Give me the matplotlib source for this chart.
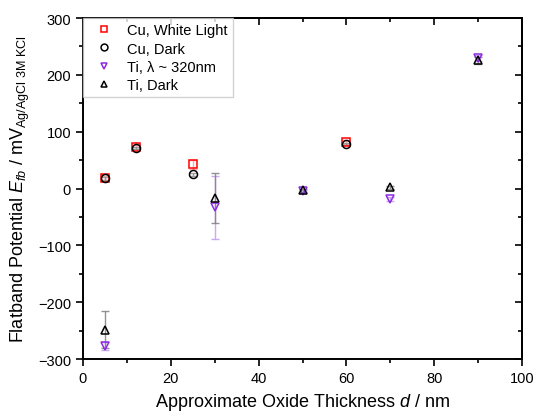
import matplotlib
matplotlib.use("Agg")
import matplotlib.pyplot as plt
from matplotlib.ticker import MultipleLocator

plt.rcParams['font.family'] = ['Liberation Sans', 'DejaVu Sans']
plt.rcParams['mathtext.fontset'] = 'custom'
plt.rcParams['mathtext.rm'] = 'Liberation Sans'
plt.rcParams['mathtext.it'] = 'Liberation Sans:italic'

# Cu electrodes
cu_x = [5, 12, 25, 60]
cu_light = [19, 73, 43, 82]
cu_light_err = [3, 3, 8, 3]
cu_dark = [18, 71, 25, 78]
cu_dark_err = [2, 2, 2, 2]

# Ti electrodes
ti_x = [5, 30, 50, 70, 90]
ti_uv = [-276, -33, -5, -18, 230]
ti_uv_err = [7, 56, 3, 3, 5]
ti_dark = [-248, -17, -3, 2, 226]
ti_dark_err = [33, 44, 3, 3, 6]

fig, ax = plt.subplots(figsize=(5.35, 4.14), dpi=100)
fig.subplots_adjust(left=0.155, right=0.976, top=0.954, bottom=0.13)

purple = '#8a2be2'
series = [
    (cu_x, cu_light, cu_light_err, 's', 'red', '#ff9a9a', 'Cu, White Light'),
    (cu_x, cu_dark, cu_dark_err, 'o', 'black', '#909090', 'Cu, Dark'),
    (ti_x, ti_uv, ti_uv_err, 'v', purple, '#c49af0', 'Ti, λ ~ 320nm'),
    (ti_x, ti_dark, ti_dark_err, '^', 'black', '#808080', 'Ti, Dark'),
]
for xs, ys, es, mk, col, ecol, lab in series:
    ax.errorbar(xs, ys, yerr=es, fmt='none', ecolor=ecol, elinewidth=1,
                capsize=3, capthick=1, alpha=0.85, zorder=2)
    ax.plot(xs, ys, linestyle='none', marker=mk, markersize=5.8,
            markerfacecolor='none', markeredgecolor=col, markeredgewidth=1.1,
            label=lab, zorder=3)

ax.set_xlim(0, 100)
ax.set_ylim(-300, 300)
ax.xaxis.set_major_locator(MultipleLocator(20))
ax.xaxis.set_minor_locator(MultipleLocator(10))
ax.yaxis.set_major_locator(MultipleLocator(100))
ax.yaxis.set_minor_locator(MultipleLocator(50))
ax.tick_params(which='both', direction='out', labelsize=10.5, width=1.2)
ax.tick_params(which='major', length=5)
ax.tick_params(which='minor', length=3)

for s in ax.spines.values():
    s.set_linewidth(1.4)

# mirrored axes with inward ticks
top = ax.secondary_xaxis('top')
top.xaxis.set_major_locator(MultipleLocator(20))
top.xaxis.set_minor_locator(MultipleLocator(10))
top.tick_params(which='both', direction='in', labeltop=False, width=1.2)
top.tick_params(which='major', length=5)
top.tick_params(which='minor', length=3)
top.spines['top'].set_linewidth(1.4)
right = ax.secondary_yaxis('right')
right.yaxis.set_major_locator(MultipleLocator(100))
right.yaxis.set_minor_locator(MultipleLocator(50))
right.tick_params(which='both', direction='in', labelright=False, width=1.2)
right.tick_params(which='major', length=5)
right.tick_params(which='minor', length=3)
right.spines['right'].set_linewidth(1.4)

ax.set_xlabel(r'Approximate Oxide Thickness $d$ / nm', fontsize=13)
ax.set_ylabel(r'Flatband Potential $E_{fb}$ / mV$_{\mathrm{Ag/AgCl\ 3M\ KCl}}$', fontsize=13)

leg = ax.legend(loc='upper left', fontsize=10.5, frameon=True, fancybox=False,
                borderpad=0.35, handletextpad=0.5, labelspacing=0.3,
                borderaxespad=0.0, handlelength=2.2, markerscale=0.85)
leg.get_frame().set_edgecolor('#c8c8c8')
leg.get_frame().set_linewidth(1.0)

fig.savefig('out.png', dpi=100)
